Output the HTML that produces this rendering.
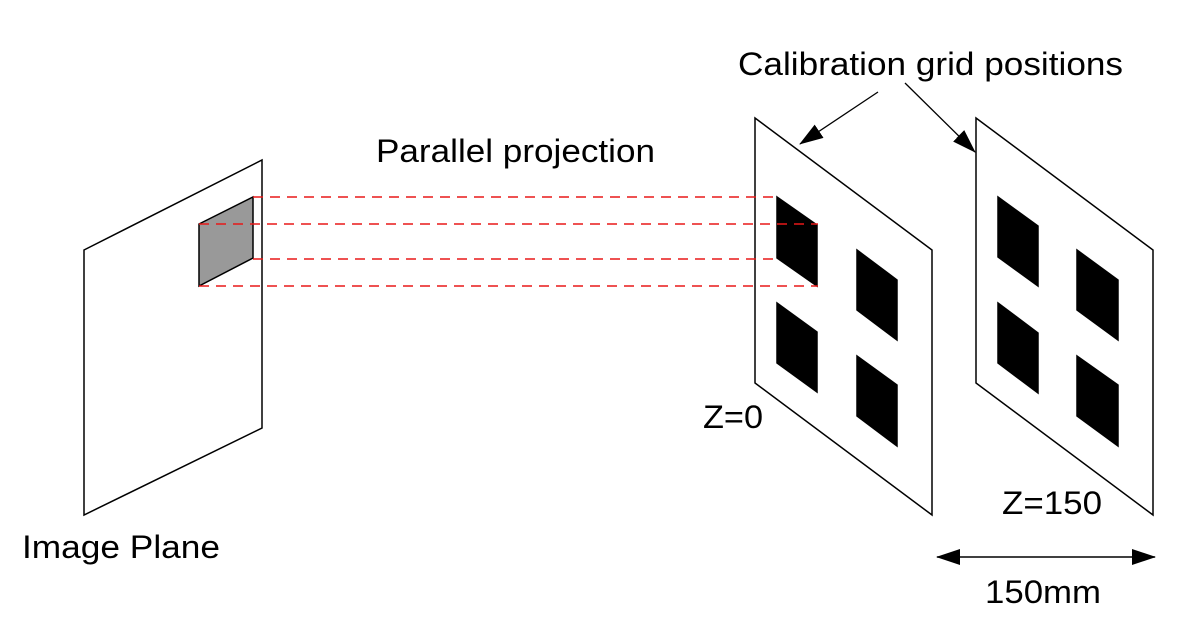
<!DOCTYPE html>
<html><head><meta charset="utf-8"><style>
html,body{margin:0;padding:0;background:#fff;width:1183px;height:628px;overflow:hidden}
text{font-family:"Liberation Sans",Arial,sans-serif;font-size:32px;fill:#000}
</style></head><body>
<svg width="1183" height="628" viewBox="0 0 1183 628">
<defs>
<marker id="ah2" markerWidth="24" markerHeight="16" refX="23" refY="8" orient="auto-start-reverse" markerUnits="userSpaceOnUse" viewBox="0 0 24 16"><path d="M0,0 L24,8 L0,16 Z" fill="#000"/></marker></defs>
<g>
<polygon points="84,250 262,160 262,428 84,515" fill="#fff" stroke="#000" stroke-width="1.5"/>
<polygon points="199,224 253,197 253,258 199,286" fill="#999" stroke="#000" stroke-width="1.5"/>
</g>
<g stroke="#000" stroke-width="1.5">
<polygon points="755,118 932,250 932,515 755,383" fill="#fff"/>
<polygon points="777,197 817,225 817,286 777,258" fill="#000"/>
<polygon points="857,250 897,280 897,340 857,310" fill="#000"/>
<polygon points="777,303 817,332 817,392 777,363" fill="#000"/>
<polygon points="857,356 897,385 897,446 857,416" fill="#000"/>
</g>
<g stroke="#000" stroke-width="1.5">
<polygon points="976,118 1153,250 1153,515 976,383" fill="#fff"/>
<polygon points="998,197 1038,226 1038,286 998,257" fill="#000"/>
<polygon points="1077,250 1118,280 1118,340 1077,310" fill="#000"/>
<polygon points="998,303 1038,333 1038,393 998,363" fill="#000"/>
<polygon points="1077,356 1118,385 1118,446 1077,416" fill="#000"/>
</g>
<g stroke="#e81818" stroke-width="1.5" stroke-dasharray="10,7">
<line x1="253" y1="197" x2="780" y2="197"/>
<line x1="199" y1="224" x2="818" y2="224"/>
<line x1="253" y1="259" x2="780" y2="259"/>
<line x1="199" y1="286" x2="818" y2="286"/>
</g>
<g stroke="#000" stroke-width="1.3">
<line x1="878" y1="92" x2="800" y2="144" marker-end="url(#ah2)"/>
<line x1="905" y1="83" x2="975" y2="152" marker-end="url(#ah2)"/>
</g>
<line x1="937" y1="557" x2="1155" y2="557" stroke="#000" stroke-width="1.5" marker-start="url(#ah2)" marker-end="url(#ah2)"/>
<text x="738" y="75" textLength="385" lengthAdjust="spacingAndGlyphs">Calibration grid positions</text>
<text x="376" y="162" textLength="279" lengthAdjust="spacingAndGlyphs">Parallel projection</text>
<text x="22" y="558" textLength="198" lengthAdjust="spacingAndGlyphs">Image Plane</text>
<text x="703" y="428" textLength="60" lengthAdjust="spacingAndGlyphs">Z=0</text>
<text x="1002" y="514" textLength="100" lengthAdjust="spacingAndGlyphs">Z=150</text>
<text x="985" y="603" textLength="116" lengthAdjust="spacingAndGlyphs">150mm</text>
</svg>
</body></html>
